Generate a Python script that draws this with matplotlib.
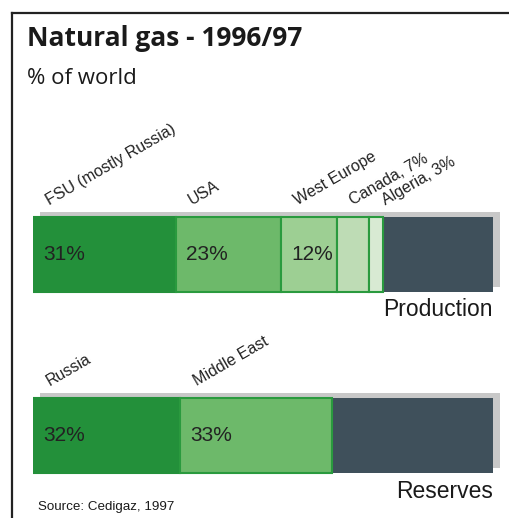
import matplotlib
matplotlib.use("Agg")
import matplotlib.pyplot as plt
import numpy as np

# data
prod_labels = ["FSU (mostly Russia)", "USA", "West Europe", "Canada, 7%", "Algeria, 3%"]
prod_values = [31, 23, 12, 7, 3]
prod_text = ["31%", "23%", "12%", "", ""]
prod_colors = ["#23903a", "#6db96a", "#9dcf93", "#bedcb5", "#d8ead3"]

res_labels = ["Russia", "Middle East"]
res_values = [32, 33]
res_text = ["32%", "33%"]
res_colors = ["#23903a", "#6db96a"]

rest_color = "#3f505b"
shadow_color = "#c8c8c8"
edge_green = "#2a9a3e"

fig = plt.figure(figsize=(5.10, 5.18), dpi=100)
W, H = 510, 518

# frame (only left and top visible)
fig.add_artist(plt.Line2D([12.5 / W, 12.5 / W], [0, 1 - 13 / H], color="#222222", lw=1.6))
fig.add_artist(plt.Line2D([12 / W, 1], [1 - 13 / H, 1 - 13 / H], color="#222222", lw=1.6))

fig.text(27 / W, 1 - 39 / H, "Natural gas - 1996/97", fontsize=19, fontweight="bold",
         family="Open Sans", va="center", ha="left", color="#1a1a1a")
fig.text(27 / W, 1 - 78 / H, "% of world", fontsize=16, family="Open Sans",
         va="center", ha="left", color="#1a1a1a")
fig.text(38 / W, 1 - 507 / H, "Source: Cedigaz, 1997", fontsize=9.6, family="Liberation Sans",
         va="center", ha="left", color="#1a1a1a")

ax = fig.add_axes([33 / W, 0, 460 / W, 1])
ax.set_xlim(0, 100)
ax.set_ylim(H, 0)
ax.axis("off")

px = 100 / 460  # data units per pixel in x


def draw_bar(yc, values, colors, texts, labels, title, title_y):
    h = 75
    ax.barh(yc - 5, 100, left=7 * px, height=h, color=shadow_color, zorder=1, clip_on=False)
    lefts = np.concatenate([[0], np.cumsum(values)[:-1]])
    total = sum(values)
    ax.barh(yc, 100 - total, left=total, height=h, color=rest_color, zorder=2)
    for i, (l, v, c) in enumerate(zip(lefts, values, colors)):
        ax.barh(yc, v, left=l, height=h, color=c,
                edgecolor=edge_green if i > 0 else c, linewidth=1.5, zorder=3)
        if texts[i]:
            ax.text(l + 10 * px, yc, texts[i], fontsize=15, family="Liberation Sans",
                    va="center", ha="left", color="#222222", zorder=4)
        ax.text(l + 18 * px, yc - h / 2 - 9, labels[i], fontsize=11.5, family="Liberation Sans",
                rotation=30, rotation_mode="anchor", va="bottom", ha="left",
                color="#222222", clip_on=False)
    ax.text(100, title_y, title, fontsize=16.5, family="Liberation Sans",
            va="center", ha="right", color="#1a1a1a")


draw_bar(254.5, prod_values, prod_colors, prod_text, prod_labels, "Production", 310)
draw_bar(435.5, res_values, res_colors, res_text, res_labels, "Reserves", 491)

fig.savefig("out.png", dpi=100)
